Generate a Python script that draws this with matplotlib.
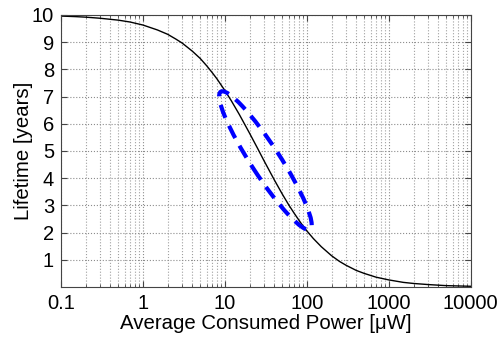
import matplotlib
matplotlib.use('Agg')
import matplotlib.pyplot as plt
import matplotlib.ticker as ticker
import matplotlib.transforms as mtransforms
from matplotlib.patches import Ellipse

# Values
power_uw = [0.1, 0.15, 0.2, 0.3, 0.5, 0.7, 1, 1.5, 2, 2.5, 3, 4, 5, 6, 7, 8,
            10, 12, 15, 20, 25, 30, 40, 50, 60, 70, 85, 100, 120, 150, 200,
            250, 300, 400, 500, 700, 1000, 1500, 2000, 3000, 5000, 10000]
lifetime_years = [9.96, 9.94, 9.92, 9.88, 9.81, 9.74, 9.63, 9.45, 9.29, 9.12,
                  8.97, 8.67, 8.40, 8.13, 7.88, 7.65, 7.22, 6.84, 6.34, 5.65,
                  5.10, 4.64, 3.94, 3.42, 3.02, 2.71, 2.34, 2.06, 1.78, 1.48,
                  1.15, 0.94, 0.80, 0.61, 0.50, 0.36, 0.26, 0.17, 0.13, 0.09,
                  0.05, 0.026]
xticks = [0.1, 1, 10, 100, 1000, 10000]
xtick_labels = ['0.1', '1', '10', '100', '1000', '10000']
yticks = [1, 2, 3, 4, 5, 6, 7, 8, 9, 10]

# highlighted region (centre in data coords)
ell_centre = (31.2, 4.65)

plt.rcParams['font.family'] = ['Liberation Sans', 'DejaVu Sans']

fig = plt.figure(figsize=(5.03, 3.39), dpi=100)
ax = fig.add_axes([0.1213, 0.1534, 0.8147, 0.8024])

ax.plot(power_uw, lifetime_years, color='black', lw=1.0)

ax.set_xscale('log')
ax.set_xlim(0.1, 10000)
ax.set_ylim(0, 10)
ax.set_xticks(xticks)
ax.set_xticklabels(xtick_labels)
ax.set_yticks(yticks)
ax.xaxis.set_minor_locator(ticker.LogLocator(base=10, subs=range(2, 10), numticks=20))
ax.xaxis.set_minor_formatter(ticker.NullFormatter())

ax.grid(True, which='major', color='#8c8c8c', linestyle=':', linewidth=0.8)
ax.grid(True, which='minor', axis='x', color='#a0a0a0', linestyle=':', linewidth=0.8)

ax.tick_params(which='both', direction='in', top=True, right=True,
               labelsize=14.5, color='#444444')
ax.tick_params(which='major', length=4, pad=5)
ax.tick_params(which='minor', length=2)
for s in ax.spines.values():
    s.set_color('#444444')
    s.set_linewidth(0.8)

ax.set_xlabel('Average Consumed Power [μW]', fontsize=14.7, labelpad=1)
ax.set_ylabel('Lifetime [years]', fontsize=14.7, labelpad=-1)

# dashed ellipse, sized in inches, centred in data space
trans = fig.dpi_scale_trans + mtransforms.ScaledTranslation(
    ell_centre[0], ell_centre[1], ax.transData)
ell = Ellipse((0, 0), 1.64, 0.29, angle=-57, transform=trans, fill=False,
              edgecolor='#0000ff', lw=3, linestyle=(0, (3.3, 2.1)), zorder=5)
ax.add_patch(ell)

fig.savefig('out.png', dpi=100)
